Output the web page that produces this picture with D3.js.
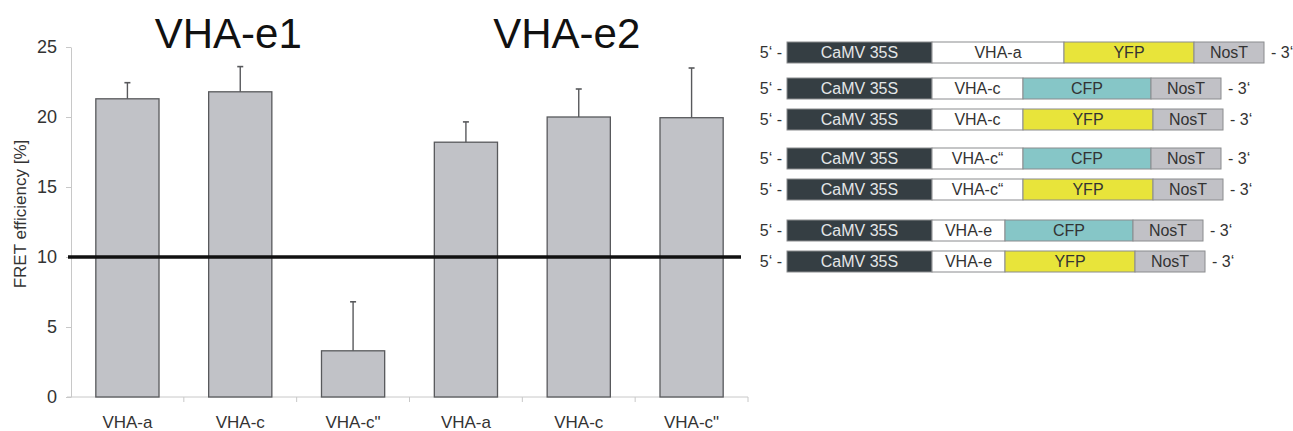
<!DOCTYPE html>
<html>
<head>
<meta charset="utf-8">
<script src="https://cdn.jsdelivr.net/npm/d3@7"></script>
<style>
  body { margin: 0; background: #fff; }
  svg { font-family: "Liberation Sans", Arial, sans-serif; }
</style>
</head>
<body>
<svg id="chart" width="1293" height="431"></svg>
<script>
// bar chart data
const categories = ['VHA-a', 'VHA-c', 'VHA-c"', 'VHA-a', 'VHA-c', 'VHA-c"'];
const efficiency = [21.3, 21.8, 3.3, 18.2, 20.0, 19.95];
const errorTop = [22.45, 23.6, 6.8, 19.65, 22.0, 23.5];
const groupTitles = ['VHA-e1', 'VHA-e2'];
const yTicks = [0, 5, 10, 15, 20, 25];
const threshold = 10;

// construct diagrams (segment lengths in relative units)
const constructGenes = ['VHA-a', 'VHA-c', 'VHA-c', 'VHA-c\u201c', 'VHA-c\u201c', 'VHA-e', 'VHA-e'];
const constructFPs = ['YFP', 'CFP', 'YFP', 'CFP', 'YFP', 'CFP', 'YFP'];
const constructGroup = [0, 1, 1, 2, 2, 3, 3];
const segLength = { 'CaMV 35S': 145, 'VHA-a': 132, 'VHA-c': 91, 'VHA-c\u201c': 91, 'VHA-e': 73, 'YFP': 130, 'CFP': 128, 'NosT': 70 };

const svg = d3.select('#chart');

// ---------- bar chart ----------
var x0 = 71, x1 = 748, yBase = 397, yTop = 47;

var x = d3.scaleBand()
    .domain(d3.range(categories.length))
    .range([x0, x1])
    .paddingInner(0.44)
    .paddingOuter(0.22);
var y = d3.scaleLinear().domain([0, 25]).range([yBase, yTop]);

// y axis
var yAxis = svg.append('g')
    .attr('transform', 'translate(' + x0 + ',0)')
    .call(d3.axisLeft(y).tickValues(yTicks).tickSize(5).tickSizeOuter(0).tickPadding(9));
yAxis.select('.domain').attr('stroke', '#c8c8c8');
yAxis.selectAll('.tick line').attr('stroke', '#c8c8c8');
yAxis.selectAll('.tick text')
    .attr('font-size', 18)
    .attr('fill', '#333')
    .attr('font-family', '"Liberation Sans", Arial, sans-serif');

// x axis baseline + ticks between categories
var step = x.step();
svg.append('line')
    .attr('x1', x0 - 4).attr('x2', x1)
    .attr('y1', yBase).attr('y2', yBase)
    .attr('stroke', '#c8c8c8');
svg.selectAll('.xtick')
    .data(d3.range(1, categories.length + 1))
    .enter().append('line')
    .attr('x1', d => x0 + d * step).attr('x2', d => x0 + d * step)
    .attr('y1', yBase).attr('y2', yBase + 5)
    .attr('stroke', '#c8c8c8');
svg.selectAll('.xlabel')
    .data(categories)
    .enter().append('text')
    .attr('x', (d, i) => x(i) + x.bandwidth() / 2)
    .attr('y', yBase + 31)
    .attr('text-anchor', 'middle')
    .attr('font-size', 17)
    .attr('fill', '#333')
    .text(d => d);

// y label
svg.append('text')
    .attr('transform', 'translate(26,' + ((yBase + yTop) / 2 - 8) + ') rotate(-90)')
    .attr('text-anchor', 'middle')
    .attr('font-size', 17)
    .attr('fill', '#333')
    .text('FRET efficiency [%]');

// bars
svg.selectAll('.bar')
    .data(efficiency)
    .enter().append('rect')
    .attr('x', (d, i) => x(i))
    .attr('y', d => y(d))
    .attr('width', x.bandwidth())
    .attr('height', d => yBase - y(d))
    .attr('fill', '#c1c2c7')
    .attr('stroke', '#58595c')
    .attr('stroke-width', 1.3);

// error bars
svg.selectAll('.err')
    .data(errorTop)
    .enter().append('line')
    .attr('x1', (d, i) => x(i) + x.bandwidth() / 2)
    .attr('x2', (d, i) => x(i) + x.bandwidth() / 2)
    .attr('y1', (d, i) => y(efficiency[i]))
    .attr('y2', d => y(d))
    .attr('stroke', '#58595c')
    .attr('stroke-width', 1.4);
svg.selectAll('.cap')
    .data(errorTop)
    .enter().append('line')
    .attr('x1', (d, i) => x(i) + x.bandwidth() / 2 - 3)
    .attr('x2', (d, i) => x(i) + x.bandwidth() / 2 + 3)
    .attr('y1', d => y(d))
    .attr('y2', d => y(d))
    .attr('stroke', '#58595c')
    .attr('stroke-width', 1.6);

// threshold line
svg.append('line')
    .attr('x1', x0 - 3).attr('x2', x1 - 7)
    .attr('y1', y(threshold)).attr('y2', y(threshold))
    .attr('stroke', '#111')
    .attr('stroke-width', 3.5);

// group titles (centred a little left of the middle bar of each group)
svg.selectAll('.title')
    .data(groupTitles)
    .enter().append('text')
    .attr('x', (d, i) => x(i * 3 + 1) + x.bandwidth() / 2 - 12)
    .attr('y', 48)
    .attr('text-anchor', 'middle')
    .attr('font-size', 42)
    .attr('fill', '#111')
    .text(d => d);

// ---------- construct diagrams ----------
var boxX = 787, rowH = 21;
var segColor = { 'CaMV 35S': '#353e43', 'YFP': '#e8e43a', 'CFP': '#86c6c7', 'NosT': '#c1c1c6' };
var lx = d3.scaleLinear().domain([0, 1]).range([boxX, boxX + 1]);
var groupGap = [0, 5, 13, 23];

constructGenes.forEach((gene, r) => {
    var top = 42 + r * 31 + groupGap[constructGroup[r]];
    var parts = ['CaMV 35S', gene, constructFPs[r], 'NosT'];
    var acc = 0;
    var segs = parts.map(p => { var s = { name: p, start: acc }; acc += segLength[p]; s.end = acc; return s; });

    var g = svg.append('g');
    g.selectAll('rect')
        .data(segs)
        .enter().append('rect')
        .attr('x', d => lx(d.start))
        .attr('y', top)
        .attr('width', d => lx(d.end) - lx(d.start))
        .attr('height', rowH)
        .attr('fill', d => segColor[d.name] || '#fff')
        .attr('stroke', '#8a8b8e')
        .attr('stroke-width', 1);
    g.selectAll('text.seg')
        .data(segs)
        .enter().append('text')
        .attr('x', d => (lx(d.start) + lx(d.end)) / 2)
        .attr('y', top + rowH / 2 + 5.5)
        .attr('text-anchor', 'middle')
        .attr('font-size', 16)
        .attr('fill', d => d.name === 'CaMV 35S' ? '#e4e6e8' : '#333')
        .text(d => d.name);
    g.append('text')
        .attr('x', boxX - 5)
        .attr('y', top + rowH / 2 + 5.5)
        .attr('text-anchor', 'end')
        .attr('font-size', 16)
        .attr('fill', '#333')
        .text('5\u2018 -');
    g.append('text')
        .attr('x', lx(acc) + 7)
        .attr('y', top + rowH / 2 + 5.5)
        .attr('font-size', 16)
        .attr('fill', '#333')
        .text('- 3\u2018');
});
</script>
</body>
</html>
